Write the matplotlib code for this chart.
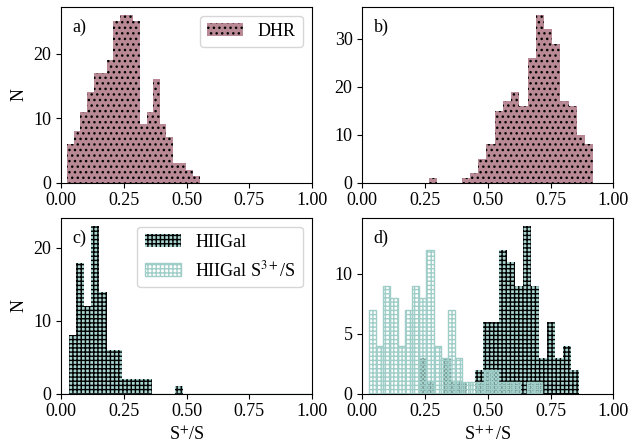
import matplotlib
matplotlib.use('Agg')
import matplotlib.pyplot as plt
import numpy as np

plt.rcParams['font.family'] = ['Liberation Serif', 'DejaVu Serif']
plt.rcParams['mathtext.fontset'] = 'stix'
plt.rcParams['font.size'] = 13
plt.rcParams['hatch.linewidth'] = 1.0

# DHR: S+/S (panel a) and S++/S (panel b), 20 bins each
dhr_s1_start, dhr_s1_width = 0.024, 0.0264
dhr_s1_counts = [6, 8, 11, 14, 17, 17, 19, 25, 26, 26, 25, 9, 11, 16, 9, 7, 3, 3, 2, 1]
dhr_s2_start, dhr_s2_width = 0.2646, 0.0328
dhr_s2_counts = [1, 0, 0, 0, 1, 2, 5, 8, 15, 17, 19, 16, 26, 35, 32, 29, 17, 16, 10, 8]

# HIIGal: S+/S (panel c), S++/S and S3+/S (panel d)
hii_s1_start, hii_s1_width = 0.0305, 0.0303
hii_s1_counts = [8, 18, 12, 23, 14, 6, 6, 2, 2, 2, 2, 0, 0, 0, 1]
hii_s2_start, hii_s2_width = 0.227, 0.0318
hii_s2_counts = [3, 1, 0, 3, 1, 1, 0, 2, 6, 6, 12, 11, 9, 14, 9, 3, 6, 3, 4, 2]
hii_s3_start, hii_s3_width = 0.0255, 0.0287
hii_s3_counts = [7, 4, 9, 8, 4, 7, 9, 8, 12, 4, 3, 7, 3, 1, 1, 1, 2, 2, 1, 1, 1, 0, 1, 1]

mauve = '#b98a95'
teal = '#a8d5d0'
teal_edge = '#9fcdc8'


def edges(start, width, counts):
    return start + width * np.arange(len(counts) + 1)


def hist(ax, start, width, counts, **kw):
    e = edges(start, width, counts)
    return ax.hist(e[:-1] + width / 2, bins=e, weights=counts, **kw)


fig, axs = plt.subplots(2, 2, figsize=(6.31, 4.43), dpi=100)
plt.subplots_adjust(left=0.0967, right=0.972, bottom=0.1113, top=0.9853,
                    wspace=0.2, hspace=0.2)
ax1, ax2, ax3, ax4 = axs.flatten()

hist(ax1, dhr_s1_start, dhr_s1_width, dhr_s1_counts, color=mauve, hatch='...', label='DHR')
hist(ax2, dhr_s2_start, dhr_s2_width, dhr_s2_counts, color=mauve, hatch='...')
ax1.legend(loc='upper right')

hist(ax3, hii_s1_start, hii_s1_width, hii_s1_counts, color=teal, hatch='++++', label='HIIGal')
# empty handle for the S3+/S legend entry
ax3.hist([], bins=edges(0, 1, [0]), facecolor='none', edgecolor=teal_edge,
         hatch='++++', label=r'HIIGal S$^{3+}$/S')
ax3.legend(loc='upper right')

hist(ax4, hii_s2_start, hii_s2_width, hii_s2_counts, color=teal, hatch='++++')
hist(ax4, hii_s3_start, hii_s3_width, hii_s3_counts, facecolor='none',
     edgecolor=teal_edge, hatch='++++')

for ax, lab in zip([ax1, ax2, ax3, ax4], ['a)', 'b)', 'c)', 'd)']):
    ax.set_xlim(0, 1)
    ax.set_xticks([0, 0.25, 0.5, 0.75, 1.0])
    ax.text(0.045, 0.93, lab, transform=ax.transAxes, va='top', ha='left')

ax1.set_ylabel('N')
ax3.set_ylabel('N')
ax3.set_xlabel(r'S$^{+}$/S')
ax4.set_xlabel(r'S$^{++}$/S')
ax4.set_yticks([0, 5, 10])

plt.savefig('out.png', dpi=100)
